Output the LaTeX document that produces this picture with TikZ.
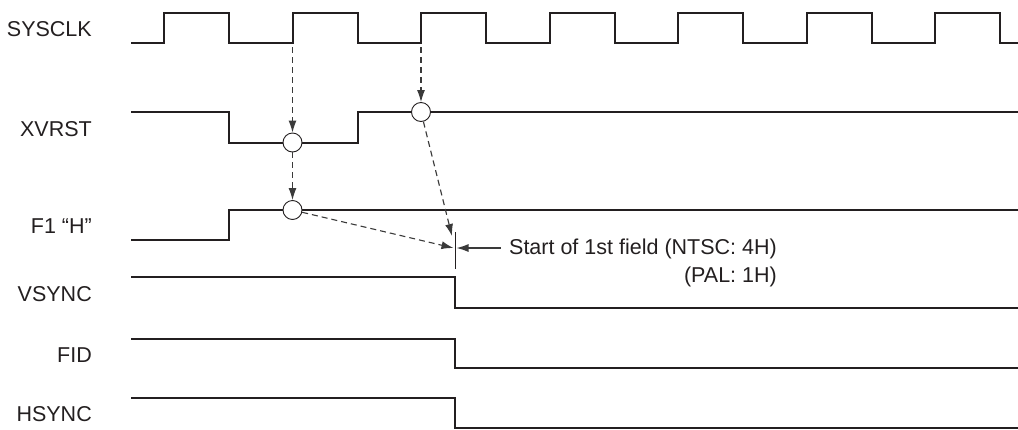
\documentclass[tikz,border=0pt]{standalone}
\usepackage{fontspec}
\setmainfont{Liberation Sans}
\usetikzlibrary{arrows.meta}
\definecolor{ink}{HTML}{231F20}
\definecolor{dashc}{HTML}{3A3A3A}
\begin{document}
\begin{tikzpicture}[x=1pt,y=-1pt,
  sig/.style={line width=2pt, draw=ink, line join=miter},
  lbl/.style={anchor=base east, font=\fontsize{21.5}{26}\selectfont, text=ink, inner sep=0pt},
  evt/.style={circle, draw=ink, fill=white, line width=0.9pt, minimum size=19pt, inner sep=0pt},
  darr/.style={line width=1.1pt, draw=dashc, dash pattern=on 6pt off 4pt, -{Latex[length=12pt,width=8pt]}},
  sarr/.style={line width=1.1pt, draw=dashc, -{Latex[length=12pt,width=8pt]}},
  tick/.style={line width=0.9pt, draw=ink}]
\useasboundingbox (0,0) rectangle (1018,429);
% signal labels
\node[lbl] (lsys) at (92,36.5) {SYSCLK};
\node[lbl] (lxv) at (92,136) {XVRST};
\node[lbl] (lf1) at (92,233.5) {F1 “H”};
\node[lbl] (lvs) at (92,301) {VSYNC};
\node[lbl] (lfid) at (92,362) {FID};
\node[lbl] (lhs) at (92,421) {HSYNC};
% SYSCLK
\draw[sig] (131,43) -- (164,43) -- (164,13) -- (229,13) -- (229,43)
  -- (292.5,43) -- (292.5,13) -- (357.5,13) -- (357.5,43)
  -- (421,43) -- (421,13) -- (486,13) -- (486,43)
  -- (549.5,43) -- (549.5,13) -- (614.5,13) -- (614.5,43)
  -- (678,43) -- (678,13) -- (743,13) -- (743,43)
  -- (806.5,43) -- (806.5,13) -- (871.5,13) -- (871.5,43)
  -- (935,43) -- (935,13) -- (1000,13) -- (1000,43) -- (1018,43);
% XVRST
\draw[sig] (131,112) -- (229,112) -- (229,142.5) -- (357.5,142.5) -- (357.5,112) -- (1018,112);
% F1 "H"
\draw[sig] (131,240) -- (229,240) -- (229,210) -- (1018,210);
% VSYNC, FID, HSYNC
\draw[sig] (131,277) -- (455,277) -- (455,308) -- (1018,308);
\draw[sig] (131,339) -- (455,339) -- (455,368) -- (1018,368);
\draw[sig] (131,398) -- (455,398) -- (455,427.5) -- (1018,427.5);
% event circles
\node[evt] (c1) at (292.5,142.5) {};
\node[evt] (c2) at (421,112) {};
\node[evt] (c3) at (292.5,210) {};
% causal arrows
\coordinate (s1) at (292.5,47);
\coordinate (s2) at (421,47);
\coordinate (t1) at (452,236);
\coordinate (t2) at (453.5,248);
\coordinate (t3) at (456.5,248);
\coordinate (k1) at (455,232);
\coordinate (k2) at (455,269);
\draw[darr] (s1) -- (c1.north);
\draw[darr] (c1.south) -- (c3.north);
\draw[darr] (s2) -- (c2.north);
\draw[darr] (c2) -- (t1);
\draw[darr] (c3) -- (t2);
\draw[tick] (k1) -- (k2);
% note
\node[lbl] (n1) at (777,254) {Start of 1st field (NTSC: 4H)};
\node[lbl] (n2) at (777,282) {(PAL: 1H)};
\coordinate (r1) at ([xshift=-8pt]n1.west);
\draw[sarr] (r1 |- t3) -- (t3);
\end{tikzpicture}
\end{document}
